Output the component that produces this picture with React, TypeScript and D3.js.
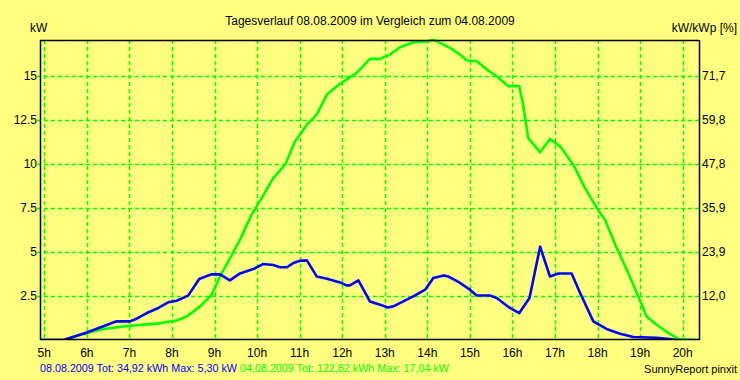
import React from "react";
import * as d3 from "d3";

// hours on x, kW on y
const hourTicks = [5, 6, 7, 8, 9, 10, 11, 12, 13, 14, 15, 16, 17, 18, 19, 20];
const kwTicks = [2.5, 5, 7.5, 10, 12.5, 15];
const kwTickLabels = ["2.5", "5", "7.5", "10", "12.5", "15"];
const pctTickLabels = ["12,0", "23,9", "35,9", "47,8", "59,8", "71,7"];

// 08.08.2009 (blue)
const blueHours = [4.9, 5.45, 6.0, 6.7, 7.01, 7.17, 7.41, 7.68, 7.91, 8.11, 8.38, 8.64, 8.93, 9.13, 9.36, 9.6, 9.91, 10.15, 10.38, 10.54, 10.7, 10.85, 11.01, 11.17, 11.4, 11.64, 11.95, 12.1, 12.18, 12.38, 12.65, 12.89, 13.08, 13.2, 13.67, 13.95, 14.14, 14.38, 14.49, 14.77, 15.0, 15.16, 15.47, 15.63, 15.94, 16.16, 16.4, 16.65, 16.88, 17.08, 17.39, 17.59, 17.9, 18.21, 18.53, 18.84, 19.39, 19.7, 19.86];
const blueKW = [0, 0, 0.43, 1.06, 1.06, 1.21, 1.53, 1.82, 2.14, 2.23, 2.52, 3.47, 3.73, 3.73, 3.39, 3.78, 4.03, 4.32, 4.26, 4.13, 4.13, 4.37, 4.5, 4.52, 3.61, 3.48, 3.27, 3.1, 3.1, 3.39, 2.19, 2.0, 1.85, 1.91, 2.48, 2.86, 3.52, 3.67, 3.61, 3.24, 2.86, 2.53, 2.53, 2.39, 1.82, 1.53, 2.39, 5.3, 3.61, 3.78, 3.78, 2.67, 1.06, 0.63, 0.36, 0.17, 0.13, 0.06, 0];

// 04.08.2009 (green)
const greenHours = [4.9, 5.45, 6.0, 6.39, 7.01, 7.64, 8.11, 8.35, 8.66, 8.93, 9.13, 9.6, 9.87, 10.11, 10.38, 10.66, 10.89, 11.17, 11.4, 11.64, 11.95, 12.34, 12.65, 12.89, 13.12, 13.36, 13.67, 13.9, 14.14, 14.22, 14.53, 14.77, 14.92, 15.16, 15.4, 15.63, 15.9, 16.16, 16.25, 16.37, 16.65, 16.88, 17.12, 17.43, 17.7, 17.98, 18.17, 18.45, 18.72, 18.99, 19.15, 19.39, 19.66, 19.9, 20.38];
const greenKW = [0, 0, 0.4, 0.62, 0.81, 0.93, 1.11, 1.34, 1.91, 2.57, 3.61, 5.7, 7.12, 8.07, 9.2, 9.96, 11.28, 12.23, 12.8, 13.94, 14.55, 15.17, 15.97, 15.97, 16.21, 16.63, 16.91, 16.93, 17.04, 16.98, 16.59, 16.21, 15.89, 15.83, 15.36, 14.98, 14.41, 14.41, 13.37, 11.48, 10.66, 11.42, 11.0, 9.96, 8.64, 7.5, 6.84, 5.23, 3.81, 2.29, 1.34, 0.87, 0.4, 0.06, 0];

const W = 740;
const H = 380;
const plotL = 40;
const plotR = 699;
const plotT = 40;
const plotB = 340;
const FONT = "'Liberation Sans', Arial, sans-serif";
const BG = "#ffff80";
const GRID = "#00ff00";

export default function App() {
  const x = d3.scaleLinear().domain([5, 20]).range([44.3, 682.7]);
  const y = d3.scaleLinear().domain([0, 17.04]).range([plotB, plotT]);
  const line = d3
    .line<[number, number]>()
    .x((d) => x(d[0]))
    .y((d) => y(d[1]));
  const blue = blueHours.map((h, i) => [h, blueKW[i]] as [number, number]);
  const green = greenHours.map((h, i) => [h, greenKW[i]] as [number, number]);

  return (
    <svg
      width={W}
      height={H}
      style={{ position: "absolute", left: 0, top: 0, display: "block" }}
      fontFamily={FONT}
    >
      <rect x={0} y={0} width={W} height={H} fill={BG} />
      <defs>
        <clipPath id="plotclip">
          <rect x={plotL} y={plotT - 2} width={plotR - plotL} height={plotB - plotT + 2} />
        </clipPath>
      </defs>
      {hourTicks.map((h) => (
        <line
          key={"v" + h}
          x1={Math.round(x(h)) + 0.5}
          x2={Math.round(x(h)) + 0.5}
          y1={plotT}
          y2={plotB}
          stroke={GRID}
          strokeWidth={1.5}
          strokeDasharray="4,3"
        />
      ))}
      {kwTicks.map((v) => (
        <line
          key={"h" + v}
          x1={plotL - 3}
          x2={plotR}
          y1={Math.round(y(v)) + 0.5}
          y2={Math.round(y(v)) + 0.5}
          stroke={GRID}
          strokeWidth={1.5}
          strokeDasharray="4,3"
        />
      ))}
      <g clipPath="url(#plotclip)">
        <path d={line(green) || ""} fill="none" stroke="#00ff00" strokeWidth={2.6} strokeLinejoin="round" />
        <path d={line(blue) || ""} fill="none" stroke="#0000ff" strokeWidth={2.6} strokeLinejoin="round" />
      </g>
      {/* frame: left, top, right, bottom */}
      <line x1={plotL + 0.5} x2={plotL + 0.5} y1={plotT} y2={plotB} stroke="#000" strokeWidth={1.5} />
      <line x1={plotL} x2={plotR} y1={plotT + 0.5} y2={plotT + 0.5} stroke="#000" strokeWidth={1.5} />
      <line x1={plotR + 0.5} x2={plotR + 0.5} y1={plotT} y2={plotB} stroke="#000" strokeWidth={1.5} />
      <line x1={plotL} x2={plotR + 1} y1={plotB - 0.5} y2={plotB - 0.5} stroke="#000" strokeWidth={1.5} />

      {kwTicks.map((v, i) => (
        <text key={"l" + v} x={37} y={y(v) + 4.5} textAnchor="end" fontSize={12} fill="#000">
          {kwTickLabels[i]}
        </text>
      ))}
      {kwTicks.map((v, i) => (
        <text key={"r" + v} x={702} y={y(v) + 4.5} textAnchor="start" fontSize={12} fill="#000">
          {pctTickLabels[i]}
        </text>
      ))}
      {hourTicks.map((h) => (
        <text key={"x" + h} x={x(h)} y={357} textAnchor="middle" fontSize={12} fill="#000">
          {h + "h"}
        </text>
      ))}
      <text x={370} y={25} textAnchor="middle" fontSize={12} fill="#000">
        Tagesverlauf 08.08.2009 im Vergleich zum 04.08.2009
      </text>
      <text x={30} y={32} fontSize={12} fill="#000">kW</text>
      <text x={737} y={32} textAnchor="end" fontSize={12} fill="#000">kW/kWp [%]</text>
      <text x={40} y={372} fontSize={10.75} xmlSpace="preserve">
        <tspan fill="#0000ff">08.08.2009 Tot: 34,92 kWh Max: 5,30 kW</tspan>
        <tspan fill="#00ff00" dx={3}>04.08.2009 Tot: 122,82 kWh Max: 17,04 kW</tspan>
      </text>
      <text x={737} y={373} textAnchor="end" fontSize={11} fill="#000">
        SunnyReport pinxit
      </text>
    </svg>
  );
}
